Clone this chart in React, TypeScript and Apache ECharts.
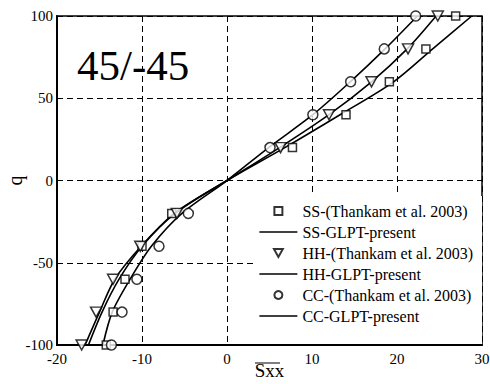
import React, { useEffect, useRef } from "react";
import * as echarts from "echarts";

// marker q levels
const markerQ = [100, 80, 60, 40, 20, -20, -40, -60, -80, -100];
const ssMarkerX = [26.9, 23.4, 19.1, 14.0, 7.7, -6.5, -10.0, -12.0, -13.4, -14.2];
const hhMarkerX = [24.8, 21.3, 17.0, 12.0, 6.3, -5.9, -10.2, -13.4, -15.4, -17.1];
const ccMarkerX = [22.2, 18.5, 14.55, 10.1, 5.06, -4.55, -8.0, -10.6, -12.35, -13.6];

// line q levels
const lineQ = [100, 80, 60, 40, 20, 0, -20, -40, -60, -80, -100];
const ssLineX = [28.8, 24.2, 19.6, 13.3, 6.8, 0, -6.1, -10.0, -12.7, -14.7, -16.3];
const hhLineX = [24.6, 21.2, 17.0, 12.0, 6.2, 0, -6.2, -10.1, -13.2, -15.0, -16.7];
const ccLineX = [22.4, 18.6, 14.5, 10.1, 4.9, 0, -5.3, -8.9, -11.4, -13.5, -14.6];

const xTicks = { min: -20, max: 30, interval: 10 };
const yTicks = { min: -100, max: 100, interval: 50 };

const names = [
  "SS-(Thankam et al. 2003)",
  "SS-GLPT-present",
  "HH-(Thankam et al. 2003)",
  "HH-GLPT-present",
  "CC-(Thankam et al. 2003)",
  "CC-GLPT-present",
];

const FONT = "'Liberation Serif', 'Times New Roman', serif";
const SQUARE = "path://M0,0H1V1H0Z";
const TRI_DOWN = "path://M0,0L2,0L1,1.8Z";
const LINE_ICON = "path://M0,0H38V1.6H0Z";

const pair = (xs: number[], qs: number[]) => xs.map((x, i) => [x, qs[i]]);

export default function App() {
  const ref = useRef<HTMLDivElement>(null);
  useEffect(() => {
    if (!ref.current) return;
    const chart = echarts.init(ref.current, undefined, { renderer: "svg" });
    const markerStyle = { color: "#fff", borderColor: "#000", borderWidth: 1.5 };
    const lineStyle = { color: "#000", width: 1.6 };
    const scatter = (name: string, data: number[][], symbol: string, size: any) => ({
      type: "scatter",
      name,
      data,
      symbol,
      symbolSize: size,
      itemStyle: markerStyle,
      z: 3,
    });
    const line = (name: string, data: number[][]) => ({
      type: "line",
      name,
      data,
      symbol: "none",
      smooth: 0.3,
      lineStyle,
      itemStyle: { color: "#000" },
      z: 2,
    });
    const lineLegendStyle = { color: "#000", borderWidth: 0 };
    chart.setOption({
      animation: false,
      backgroundColor: "#fff",
      title: {
        text: "45/-45",
        left: 77,
        top: 44,
        padding: 0,
        textStyle: { fontFamily: FONT, fontSize: 43, fontWeight: "normal", color: "#000" },
      },
      grid: {
        left: 57,
        right: 8,
        top: 16,
        bottom: 39,
        containLabel: false,
        outerBoundsMode: "none",
        show: true,
        borderColor: "#000",
        borderWidth: 1.5,
      },
      xAxis: {
        type: "value",
        ...xTicks,
        name: "Sxx",
        nameLocation: "middle",
        nameGap: 16,
        nameMoveOverlap: false,
        nameTextStyle: { fontFamily: FONT, fontSize: 19, color: "#000" },
        axisLine: { onZero: false, lineStyle: { color: "#000", width: 2 } },
        axisTick: { show: false },
        axisLabel: { fontFamily: FONT, fontSize: 15, color: "#000", margin: 6 },
        splitLine: { lineStyle: { color: "#000", type: [6, 4], width: 1 } },
      },
      yAxis: {
        type: "value",
        ...yTicks,
        name: "q",
        nameLocation: "middle",
        nameGap: 32,
        nameRotate: 90,
        nameMoveOverlap: false,
        nameTextStyle: { fontFamily: FONT, fontSize: 20, color: "#000" },
        axisLine: { onZero: false, lineStyle: { color: "#000", width: 2 } },
        axisTick: { show: false },
        axisLabel: { fontFamily: FONT, fontSize: 15, color: "#000", margin: 4 },
        splitLine: { lineStyle: { color: "#000", type: [6, 4], width: 1 } },
      },
      legend: {
        data: [
          { name: names[0], icon: SQUARE },
          { name: names[1], icon: LINE_ICON, itemStyle: lineLegendStyle },
          { name: names[2], icon: TRI_DOWN },
          { name: names[3], icon: LINE_ICON, itemStyle: lineLegendStyle },
          { name: names[4], icon: "circle" },
          { name: names[5], icon: LINE_ICON, itemStyle: lineLegendStyle },
        ],
        orient: "vertical",
        right: 8,
        top: 196,
        backgroundColor: "#fff",
        padding: [7, 9, 20, 5],
        itemWidth: 38,
        itemHeight: 8,
        itemGap: 5,
        textStyle: { fontFamily: FONT, fontSize: 16, color: "#000", lineHeight: 15.5 },
        z: 10,
      },
      graphic: [
        {
          type: "line",
          shape: { x1: 255, y1: 363, x2: 280, y2: 363 },
          style: { stroke: "#000", lineWidth: 1 },
        },
      ],
      series: [
        scatter(names[0], pair(ssMarkerX, markerQ), "rect", 8),
        line(names[1], pair(ssLineX, lineQ)),
        scatter(names[2], pair(hhMarkerX, markerQ), TRI_DOWN, [11, 10]),
        line(names[3], pair(hhLineX, lineQ)),
        scatter(names[4], pair(ccMarkerX, markerQ), "circle", 10),
        line(names[5], pair(ccLineX, lineQ)),
      ],
    });
    return () => chart.dispose();
  }, []);
  return (
    <div
      ref={ref}
      style={{ position: "fixed", left: 0, top: 0, width: 490, height: 384 }}
    />
  );
}
